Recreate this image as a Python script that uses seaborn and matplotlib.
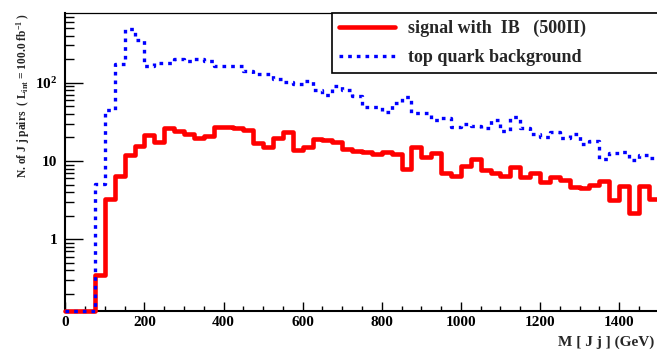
import numpy as np
import pandas as pd
import matplotlib
matplotlib.use("Agg")
import matplotlib.pyplot as plt
import seaborn as sns
from matplotlib.ticker import FixedLocator, FixedFormatter, LogLocator, MultipleLocator, NullFormatter
from matplotlib.lines import Line2D

# ---------------- data (25 GeV bins from 0 to 1500 GeV) ----------------
bin_width = 25
n_bins = 60
bin_edges = np.arange(n_bins + 1) * bin_width
bin_centers = bin_edges[:-1] + bin_width / 2

signal = [0, 0, 0, 0.35, 3.27, 6.5, 11.9, 15.5, 21.5, 17.3,
          26.2, 24.4, 21.9, 19.9, 20.9, 27.4, 27.4, 26.2, 24.9, 17.1,
          15.2, 19.5, 23.3, 13.8, 15.2, 18.9, 18.5, 17.6, 14.2, 13.5,
          13.1, 12.2, 13.1, 12.2, 7.8, 15.2, 11.1, 12.5, 7.0, 6.4,
          8.6, 10.5, 7.7, 7.0, 6.4, 8.4, 6.2, 7.0, 5.4, 6.2,
          5.7, 4.65, 4.5, 4.9, 5.6, 3.2, 4.75, 2.19, 4.75, 3.3]

background = [0, 0, 0, 5.1, 45, 175, 485, 350, 165, 180,
              180, 198, 190, 198, 192, 165, 165, 165, 140, 129,
              129, 112, 101, 95, 106, 80, 69, 90, 81, 68,
              48.6, 49.4, 42.6, 55, 65, 41.4, 41.4, 33.4, 35, 27,
              30, 28, 26, 33, 24, 36, 26, 22, 20.5, 23.7,
              19.5, 22, 16.3, 18, 10.5, 12.5, 13.1, 10.2, 11.9, 11]

series_labels = ["signal with  IB   (500II)", "top quark background"]
xtick_values = [0, 200, 400, 600, 800, 1000, 1200, 1400]
xtick_labels = ["0", "200", "400", "600", "800", "1000", "1200", "1400"]
ytick_values = [1, 10, 100]
ytick_labels = ["1", "10", r"$10^{2}$"]
x_title = "M [ J j ] (GeV)"
y_title = r"N. of J j pairs  ( L$_{\mathrm{int}}$ = 100.0 fb$^{\mathrm{-1}}$ )"

YMIN, YMAX = 0.1225, 783
XMIN, XMAX = 0, 1500

# ---------------- style ----------------
sns.set_theme(style="ticks")
plt.rcParams["font.family"] = ["Liberation Serif", "DejaVu Serif"]
plt.rcParams["font.weight"] = "bold"
plt.rcParams["mathtext.fontset"] = "custom"
plt.rcParams["mathtext.rm"] = "Liberation Serif:bold"
plt.rcParams["mathtext.it"] = "Liberation Serif:bold:italic"
plt.rcParams["mathtext.bf"] = "Liberation Serif:bold"
plt.rcParams["axes.unicode_minus"] = True

W, H = 657, 352
fig = plt.figure(figsize=(W / 100, H / 100), dpi=100)
ax = fig.add_axes([65.4 / W, 41.3 / H, 593.2 / W, 298.0 / H])

# zero bins are shown at the bottom of the frame (ROOT style)
df = pd.DataFrame({
    "mass": bin_centers,
    "signal": np.clip(signal, YMIN, None),
    "background": np.clip(background, YMIN, None),
})

red = "#ff0000"
blue = "#0000ff"
sig_lw = 3.3
bkg_lw = 2.4
bkg_ls = (0, (1.1, 1.5))

sns.histplot(data=df, x="mass", weights="signal", binwidth=bin_width,
             binrange=(bin_edges[0], bin_edges[-1]), element="step",
             fill=False, color=red, linewidth=sig_lw, ax=ax, clip_on=False, zorder=3)
sns.histplot(data=df, x="mass", weights="background", binwidth=bin_width,
             binrange=(bin_edges[0], bin_edges[-1]), element="step",
             fill=False, color=blue, linewidth=bkg_lw, linestyle=bkg_ls, ax=ax,
             clip_on=False, zorder=4)

ax.set_yscale("log")
ax.set_xlim(XMIN, XMAX)
ax.set_ylim(YMIN, YMAX)

ax.xaxis.set_major_locator(FixedLocator(xtick_values))
ax.xaxis.set_major_formatter(FixedFormatter(xtick_labels))
ax.xaxis.set_minor_locator(MultipleLocator(50))
ax.yaxis.set_major_locator(FixedLocator(ytick_values))
ax.yaxis.set_major_formatter(FixedFormatter(ytick_labels))
ax.yaxis.set_minor_locator(LogLocator(base=10, subs=np.arange(2, 10), numticks=20))
ax.yaxis.set_minor_formatter(NullFormatter())

ax.tick_params(axis="both", which="both", direction="in", top=False, right=False,
               color="black", width=1.0, labelsize=11, labelcolor="black")
ax.tick_params(axis="x", which="major", length=6.5, pad=4)
ax.tick_params(axis="x", which="minor", length=3.3)
ax.tick_params(axis="y", which="major", length=13, pad=6)
ax.tick_params(axis="y", which="minor", length=6.5)
for lab in ax.get_xticklabels() + ax.get_yticklabels():
    lab.set_fontweight("bold")

for side in ["left", "bottom"]:
    ax.spines[side].set_linewidth(1.5)
    ax.spines[side].set_color("black")
for side in ["top", "right"]:
    ax.spines[side].set_linewidth(0.9)
    ax.spines[side].set_color("black")
ax.grid(False)
ax.set_facecolor("white")

ax.set_xlabel(x_title, loc="right", fontsize=11, fontweight="bold")
ax.xaxis.set_label_coords((654 - 65.4) / 593.2, -(336 - 310.7) / 298.0)
ax.set_ylabel(y_title, loc="top", fontsize=8.3, fontweight="bold")
ax.yaxis.set_label_coords((32 - 65.4) / 593.2, 1.0)

handles = [Line2D([], [], color=red, linewidth=sig_lw),
           Line2D([], [], color=blue, linewidth=bkg_lw, linestyle=bkg_ls)]
leg = fig.legend(handles, series_labels, loc="upper left",
                 bbox_to_anchor=(331.7 / W, 1 - 12.7 / H, 0.6, 0), mode="expand",
                 borderaxespad=0,
                 frameon=True, fancybox=False, edgecolor="black", framealpha=1,
                 borderpad=0.4, labelspacing=0.65, handlelength=3.1, handletextpad=0.75,
                 prop={"family": "Liberation Serif", "weight": "bold", "size": 13})
leg.get_frame().set_linewidth(1.2)

fig.savefig("out.png", dpi=100, facecolor="white")
